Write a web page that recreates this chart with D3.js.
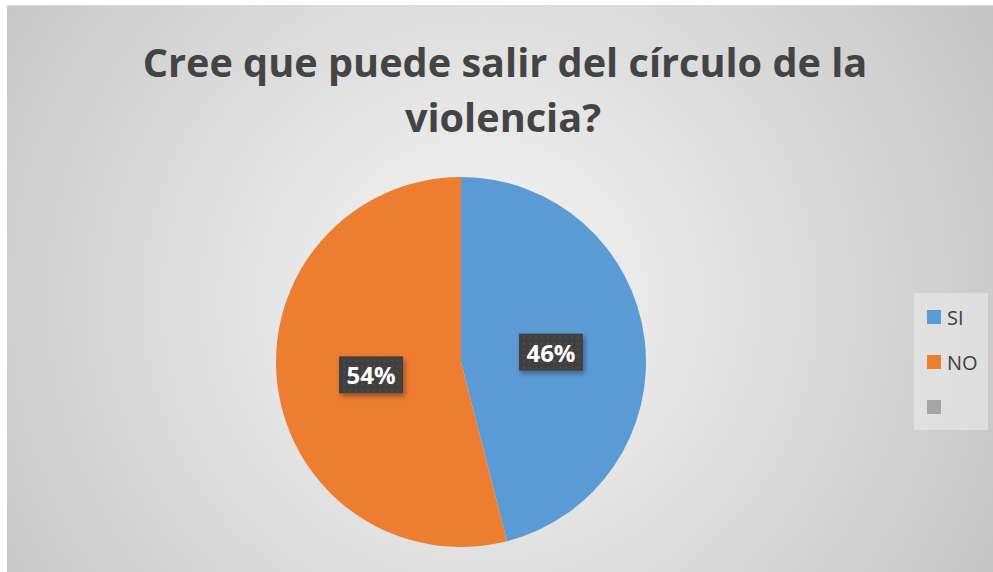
<!DOCTYPE html>
<html><head><meta charset="utf-8">
<script src="https://cdn.jsdelivr.net/npm/d3@7"></script>
<style>html,body{margin:0;padding:0;background:#fff;}svg{display:block;}</style>
</head><body>
<svg id="c" width="993" height="572"></svg>
<script>
const categories = ["SI", "NO", ""];
const values = [46, 54, 0];
const labels = ["46%", "54%", ""];
const colors = ["#5B9BD5", "#ED7D31", "#A5A5A5"];
const titleLines = ["Cree que puede salir del círculo de la", "violencia?"];

const svg = d3.select("#c");
const W = 993, H = 572;
const FONT = "'Open Sans', sans-serif";
const defs = svg.append("defs");
const rg = defs.append("radialGradient").attr("id","bg").attr("gradientUnits","userSpaceOnUse")
  .attr("cx",480).attr("cy",300).attr("r",620);
rg.append("stop").attr("offset","0%").attr("stop-color","#f7f7f7");
rg.append("stop").attr("offset","100%").attr("stop-color","#c2c2c2");
const pat = defs.append("pattern").attr("id","dots").attr("width",6).attr("height",6).attr("patternUnits","userSpaceOnUse");
pat.append("rect").attr("width",6).attr("height",6).attr("fill","#404040");
pat.append("rect").attr("x",2).attr("y",2).attr("width",2).attr("height",2).attr("fill","#4e4e4e");
const f = defs.append("filter").attr("id","sh").attr("x","-30%").attr("y","-30%").attr("width","160%").attr("height","170%");
f.append("feDropShadow").attr("dx",2).attr("dy",3).attr("stdDeviation",2.5).attr("flood-color","#000").attr("flood-opacity",0.35);

svg.append("rect").attr("x",7).attr("y",6).attr("width",W-7).attr("height",H-6).attr("fill","url(#bg)");
svg.append("line").attr("x1",7).attr("x2",W).attr("y1",5.5).attr("y2",5.5).attr("stroke","#d9d9d9");

// Title
const title = svg.append("text").attr("text-anchor","middle").attr("fill","#444444")
  .attr("font-family",FONT).attr("font-weight","bold");
const t1 = title.append("tspan").attr("x",505).attr("y",77).text(titleLines[0]);
const t2 = title.append("tspan").attr("x",503).attr("y",132).text(titleLines[1]);
title.attr("font-size",44);
const w1 = t1.node().getComputedTextLength();
title.attr("font-size", 44*725/w1);

// Pie
const cx = 461, cy = 362, R = 185;
const pie = d3.pie().sort(null).value(d=>d.v)(categories.map((c,i)=>({c, v: values[i], i})));
const arc = d3.arc().innerRadius(0).outerRadius(R);
const g = svg.append("g").attr("transform",`translate(${cx},${cy})`);
g.selectAll("path").data(pie).join("path").attr("d",arc).attr("fill",d=>colors[d.data.i]);

const lg = g.selectAll("g.lab").data(pie.filter(d=>d.data.v>0)).join("g").attr("class","lab")
  .attr("transform",d=>{const [x,y]=d3.arc().innerRadius(R*0.49).outerRadius(R*0.49).centroid(d);return `translate(${x},${y+2})`;});
lg.append("rect").attr("x",-32).attr("y",-19).attr("width",64).attr("height",37).attr("fill","url(#dots)").attr("filter","url(#sh)");
lg.append("text").attr("text-anchor","middle").attr("y",9).attr("fill","#fff")
  .attr("font-family",FONT).attr("font-weight","bold").attr("font-size",24)
  .text((d)=>labels[d.data.i]);

// Legend
svg.append("rect").attr("x",914).attr("y",293).attr("width",74).attr("height",137).attr("fill","#e3e3e3").attr("fill-opacity",0.8);
const y = d3.scalePoint().domain(categories.map((c,i)=>i)).range([317,407]);
const le = svg.append("g").selectAll("g").data(categories).join("g").attr("transform",(d,i)=>`translate(927,${y(i)})`);
le.append("rect").attr("x",0).attr("y",-7).attr("width",14).attr("height",14).attr("fill",(d,i)=>colors[i]);
le.append("text").attr("x",20).attr("y",7.5).attr("fill","#404040").attr("font-family",FONT)
  .attr("font-size",20).text(d=>d);
</script>
</body></html>
